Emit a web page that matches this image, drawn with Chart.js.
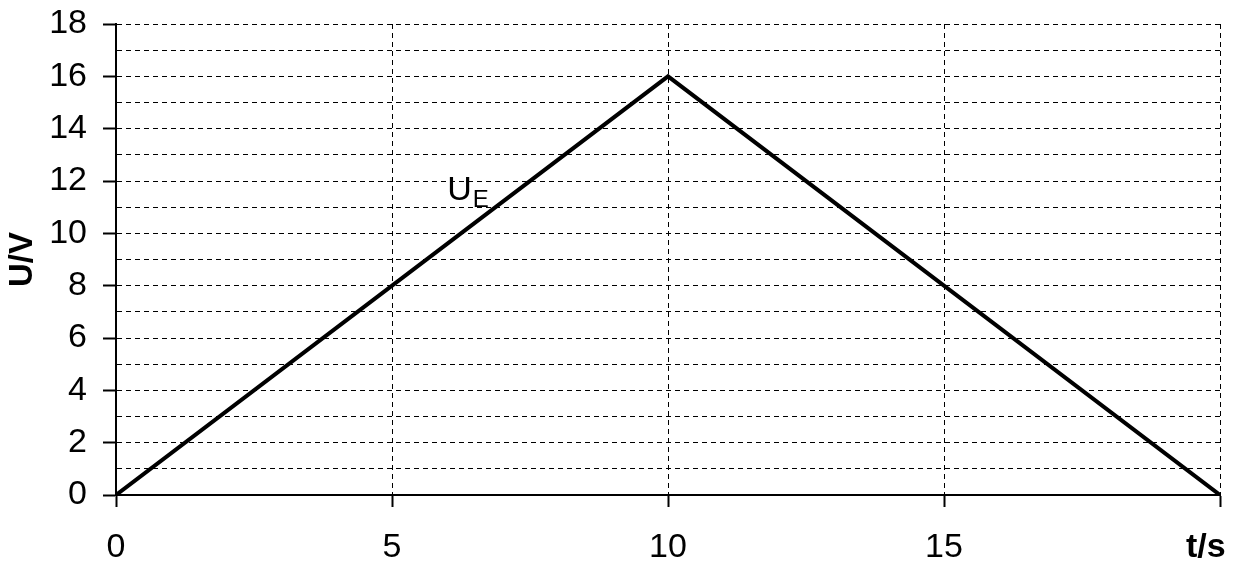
<!DOCTYPE html>
<html>
<head>
<meta charset="utf-8">
<script src="https://cdn.jsdelivr.net/npm/chart.js@4/dist/chart.umd.min.js"></script>
<style>
  html, body { margin: 0; padding: 0; background: #fff; }
  #wrap { width: 1236px; height: 563px; }
</style>
</head>
<body>
<div id="wrap"><canvas id="chartCanvas"></canvas></div>
<script>
// data
const timeValues = [0, 10, 20];
const voltageValues = [0, 16, 0];
const xTickLabels = {0: '0', 5: '5', 10: '10', 15: '15', 20: 't/s'};
const yTitle = 'U/V';
const curveLabel = ['U', 'E'];
const curveLabelAt = [6.0, 11.27]; // where the U_E note sits, in data units

const fontFamily = '"Liberation Sans", Arial, sans-serif';

// little plugin for the U_E note next to the line
const curveNote = {
    id: 'curveNote',
    afterDraw(chart){
        const ctx = chart.ctx;
        const x = chart.scales.x.getPixelForValue(curveLabelAt[0]);
        const y = chart.scales.y.getPixelForValue(curveLabelAt[1]);
        ctx.save();
        ctx.fillStyle = '#000';
        ctx.textBaseline = 'alphabetic';
        ctx.font = '34px ' + fontFamily;
        ctx.fillText(curveLabel[0], x, y);
        const w = ctx.measureText(curveLabel[0]).width;
        ctx.font = '24px ' + fontFamily;
        ctx.fillText(curveLabel[1], x + w + 1, y + 7);
        ctx.restore();
    }
};

const ctx = document.getElementById('chartCanvas');

new Chart(ctx, {
    type: 'line',
    data: {
        datasets: [{
            data: timeValues.map((t, i) => ({x: t, y: voltageValues[i]})),
            borderColor: '#000',
            borderWidth: 4,
            pointRadius: 0,
            tension: 0,
            fill: false
        }]
    },
    options: {
        responsive: true,
        maintainAspectRatio: false,
        animation: false,
        events: [],
        layout: { padding: { top: 24, right: 16, left: 0, bottom: 0 } },
        plugins: {
            legend: { display: false },
            tooltip: { enabled: false }
        },
        scales: {
            x: {
                type: 'linear',
                min: 0,
                max: 20,
                afterFit(scale){
                    scale.height = 68;
                    scale.paddingLeft = 0;
                    scale.paddingRight = 0;
                },
                afterBuildTicks(scale){
                    scale.ticks = Object.keys(xTickLabels).map(v => ({value: +v}));
                },
                grid: {
                    color: '#000',
                    lineWidth: 1,
                    drawTicks: true,
                    tickLength: 12,
                    tickColor: '#000',
                    tickWidth: 2,
                    tickBorderDash: []
                },
                border: { display: true, color: '#000', width: 2, dash: [5, 4] },
                ticks: {
                    autoSkip: false,
                    maxRotation: 0,
                    padding: 20,
                    color: '#000',
                    font: c => ({
                        family: fontFamily,
                        size: 34,
                        weight: c.tick && c.tick.value === 20 ? 'bold' : 'normal'
                    }),
                    callback: v => v === 20 ? xTickLabels[v] + '\u00a0\u00a0\u00a0' : xTickLabels[v]
                }
            },
            y: {
                min: 0,
                max: 18,
                afterFit(scale){
                    scale.width = 116;
                    scale.paddingTop = 0;
                    scale.paddingBottom = 0;
                },
                title: {
                    display: true,
                    text: yTitle,
                    color: '#000',
                    padding: { top: 3, bottom: 0 },
                    font: { family: fontFamily, size: 33, weight: 'bold' }
                },
                grid: {
                    color: '#000',
                    lineWidth: 1,
                    drawTicks: true,
                    tickLength: 13,
                    tickWidth: 2,
                    tickBorderDash: [],
                    tickColor: c => (c.tick && c.tick.value % 2 === 0) ? '#000' : 'rgba(0,0,0,0)'
                },
                border: { display: true, color: '#000', width: 2, dash: [5, 4] },
                ticks: {
                    stepSize: 1,
                    autoSkip: false,
                    padding: 16,
                    color: '#000',
                    font: { family: fontFamily, size: 34 },
                    callback: v => v % 2 === 0 ? String(v) : ''
                }
            }
        }
    },
    plugins: [curveNote]
});
</script>
</body>
</html>
